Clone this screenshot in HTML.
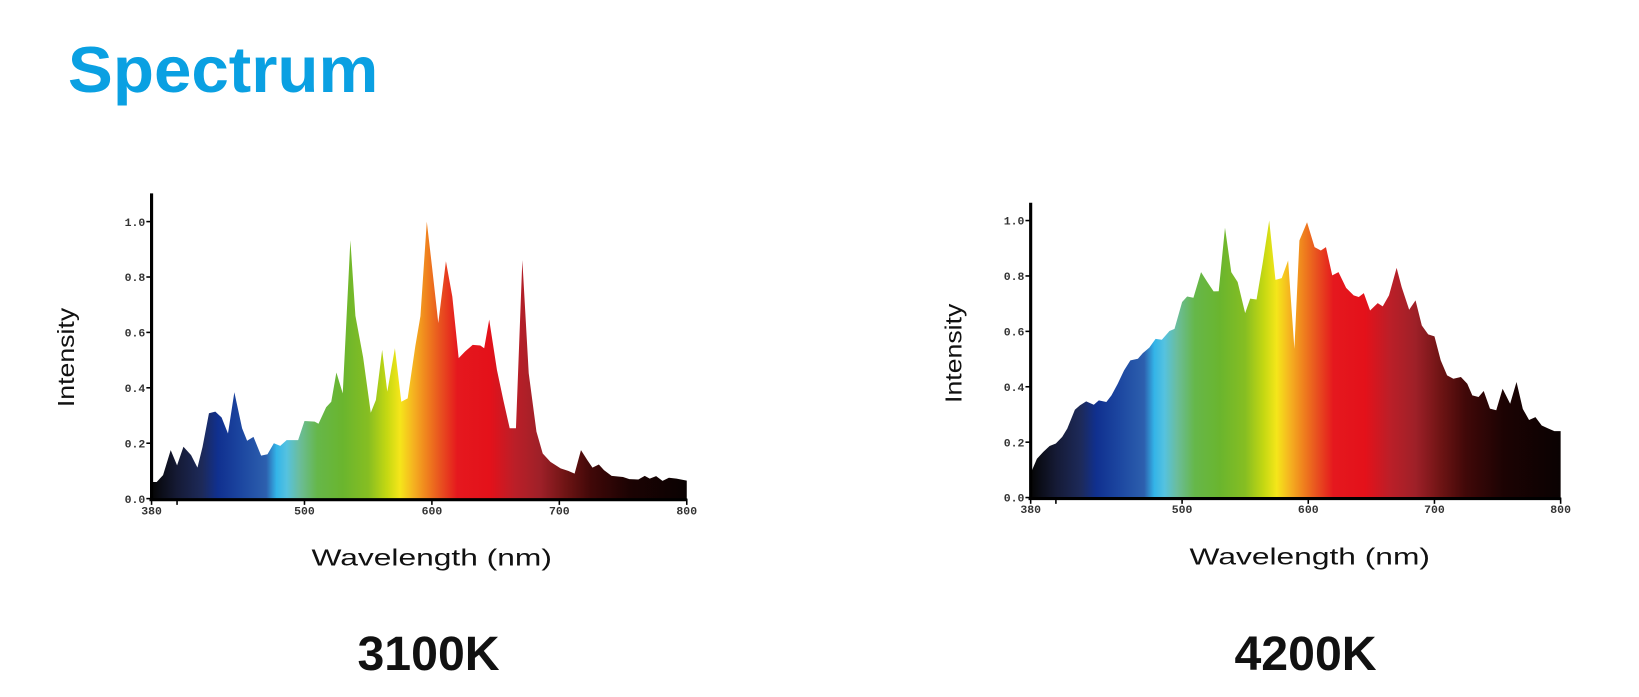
<!DOCTYPE html>
<html><head><meta charset="utf-8">
<style>
html,body{margin:0;padding:0;background:#fff;width:1639px;height:697px;overflow:hidden}
svg{display:block}
.tk{font-family:"Liberation Mono",monospace;font-weight:bold;font-size:11px;fill:#333}
.ax{font-family:"Liberation Sans",sans-serif;font-size:22px;fill:#111}
.big{font-family:"Liberation Sans",sans-serif;font-size:46px;font-weight:bold;fill:#111}
</style></head>
<body>
<svg id="root" width="1639" height="697" xmlns="http://www.w3.org/2000/svg">
<defs id="defs"></defs>
<g transform="scale(1.0453)">
<text x="65" y="88" fill="#0aa0e2" font-family="Liberation Sans, sans-serif" font-weight="bold" font-size="62" textLength="297" lengthAdjust="spacingAndGlyphs">Spectrum</text>
<g id="c1"></g>
<g id="c2"></g>
</g>
</svg>
<script>
const wl3100 = [380,384,389,395,400,405,411,416,420,425,430,435,440,445,451,455,460,466,471,476,481,486,495,500,508,511,517,521,525,530,536,540,546,552,556,561,565,571,576,581,587,591,596,600,605,611,616,621,626,632,638,641,645,651,656,661,666,671,676,682,687,693,701,707,712,717,722,726,731,735,741,750,755,762,767,771,776,781,786,792,800];
const val3100 = [0.06,0.06,0.085,0.175,0.12,0.187,0.157,0.112,0.187,0.308,0.314,0.293,0.235,0.384,0.254,0.209,0.223,0.155,0.16,0.2,0.19,0.211,0.211,0.28,0.278,0.27,0.33,0.35,0.455,0.38,0.933,0.66,0.51,0.31,0.356,0.537,0.386,0.543,0.35,0.362,0.55,0.658,1.0,0.84,0.634,0.857,0.73,0.507,0.531,0.555,0.553,0.543,0.646,0.465,0.356,0.254,0.254,0.861,0.453,0.242,0.163,0.133,0.109,0.1,0.09,0.175,0.139,0.112,0.123,0.103,0.082,0.078,0.07,0.069,0.082,0.072,0.081,0.064,0.075,0.072,0.065];
const wl4200 = [380,385,390,395,400,405,409,415,419,424,430,434,440,444,449,454,459,465,469,474,479,484,490,494,500,504,509,515,520,525,529,534,539,544,550,554,559,564,569,574,579,584,589,593,599,605,610,614,619,624,630,636,640,644,649,655,659,664,670,674,680,685,690,695,700,705,710,715,721,726,730,735,739,744,749,754,760,765,770,775,780,785,790,795,800];
const val4200 = [0.087,0.14,0.165,0.186,0.195,0.219,0.249,0.317,0.333,0.347,0.335,0.351,0.345,0.369,0.411,0.459,0.495,0.501,0.522,0.541,0.573,0.57,0.601,0.609,0.706,0.726,0.721,0.814,0.778,0.744,0.745,0.974,0.814,0.778,0.666,0.718,0.715,0.85,1.0,0.786,0.792,0.856,0.537,0.928,0.994,0.904,0.892,0.904,0.802,0.814,0.757,0.73,0.724,0.738,0.675,0.702,0.69,0.73,0.829,0.76,0.678,0.712,0.621,0.589,0.582,0.495,0.441,0.429,0.435,0.411,0.369,0.363,0.385,0.321,0.315,0.393,0.339,0.417,0.32,0.28,0.29,0.26,0.25,0.24,0.24];
const yTicks = [0,0.2,0.4,0.6,0.8,1.0];
const yTickLabels = ["0.0","0.2","0.4","0.6","0.8","1.0"];
const xTicks = [380,500,600,700,800];
const stops = [[380,"#050505"],[400,"#151a35"],[420,"#1d2a5a"],[432,"#10308f"],[450,"#1c46a0"],[470,"#2d60ae"],[478,"#33b4e8"],[486,"#55c2e0"],[496,"#6bbd9c"],[510,"#66b74a"],[530,"#6ab52e"],[550,"#86be22"],[565,"#c6d812"],[575,"#f5e61a"],[585,"#f5b520"],[595,"#f0861e"],[607,"#e8501f"],[620,"#e5181e"],[645,"#e4111a"],[665,"#bb1f28"],[685,"#9e2028"],[705,"#6e1414"],[725,"#400808"],[755,"#1c0303"],[800,"#0a0202"]];
const NS="http://www.w3.org/2000/svg";
function el(t,a,p){const e=document.createElementNS(NS,t);for(const k in a)e.setAttribute(k,a[k]);p.appendChild(e);return e;}
function draw(gid,o,wls,vals,label){
  const g=document.getElementById(gid);
  const xs=w=>o.x0+(w-380)/(800-380)*(o.x1-o.x0);
  const ys=v=>o.y0-v*(o.y0-o.y1);
  const gr=el('linearGradient',{id:'gr'+gid,gradientUnits:'userSpaceOnUse',x1:xs(380),x2:xs(800),y1:0,y2:0},document.getElementById('defs'));
  stops.forEach(s=>el('stop',{offset:((s[0]-380)/420).toFixed(4),'stop-color':s[1]},gr));
  let d='M'+xs(wls[0])+','+o.y0;
  wls.forEach((w,i)=>{d+=' L'+xs(w).toFixed(1)+','+ys(vals[i]).toFixed(1);});
  d+=' L'+xs(wls[wls.length-1])+','+o.y0+' Z';
  const area=el('path',{d:d,fill:'url(#gr'+gid+')'},g);
  
  
  const ya=el('line',{x1:o.x0,x2:o.x0,y1:o.top,y2:o.y0+1,stroke:'#000','stroke-width':3},g);
  
  
  const xa=el('line',{x1:o.x0-2,x2:o.x1,y1:o.y0+1,y2:o.y0+1,stroke:'#000','stroke-width':3},g);
  
  
  yTicks.forEach((v,i)=>{
    el('line',{x1:o.x0-5,x2:o.x0,y1:ys(v),y2:ys(v),stroke:'#000','stroke-width':1.5},g);
    const t=el('text',{x:o.x0-6,y:ys(v)+4,'text-anchor':'end',class:'tk'},g);
    t.textContent=yTickLabels[i];
    
    
  });
  xTicks.forEach(w=>{
    el('line',{x1:xs(w),x2:xs(w),y1:o.y0,y2:o.y0+6,stroke:'#000','stroke-width':1.5},g);
    const t=el('text',{x:xs(w),y:o.y0+15,'text-anchor':'middle',class:'tk'},g);
    t.textContent=String(w);
    
    
  });
  el('line',{x1:xs(400),x2:xs(400),y1:o.y0,y2:o.y0+6,stroke:'#000','stroke-width':1.5},g);
  const xt=el('text',{x:o.xtX,y:o.y0+64,'text-anchor':'middle',class:'ax',textLength:230,lengthAdjust:'spacingAndGlyphs'},g);
  xt.textContent='Wavelength (nm)';
  
  
  const yt=el('text',{x:0,y:0,'text-anchor':'middle',class:'ax',textLength:95,lengthAdjust:'spacingAndGlyphs',transform:'translate('+o.ytX+','+o.ytY+') rotate(-90)'},g);
  yt.textContent='Intensity';
  
  
  const lb=el('text',{x:o.labelX,y:641,'text-anchor':'middle',class:'big',textLength:136,lengthAdjust:'spacingAndGlyphs'},g);
  lb.textContent=label;
  
  
}
draw('c1',{x0:145,x1:657,y0:477,y1:212,top:185,labelX:410,xtX:413,ytX:71,ytY:342},wl3100,val3100,'3100K');
draw('c2',{x0:986,x1:1493,y0:476,y1:211,top:194,labelX:1249,xtX:1253,ytX:920,ytY:338},wl4200,val4200,'4200K');
</script>
</body></html>
